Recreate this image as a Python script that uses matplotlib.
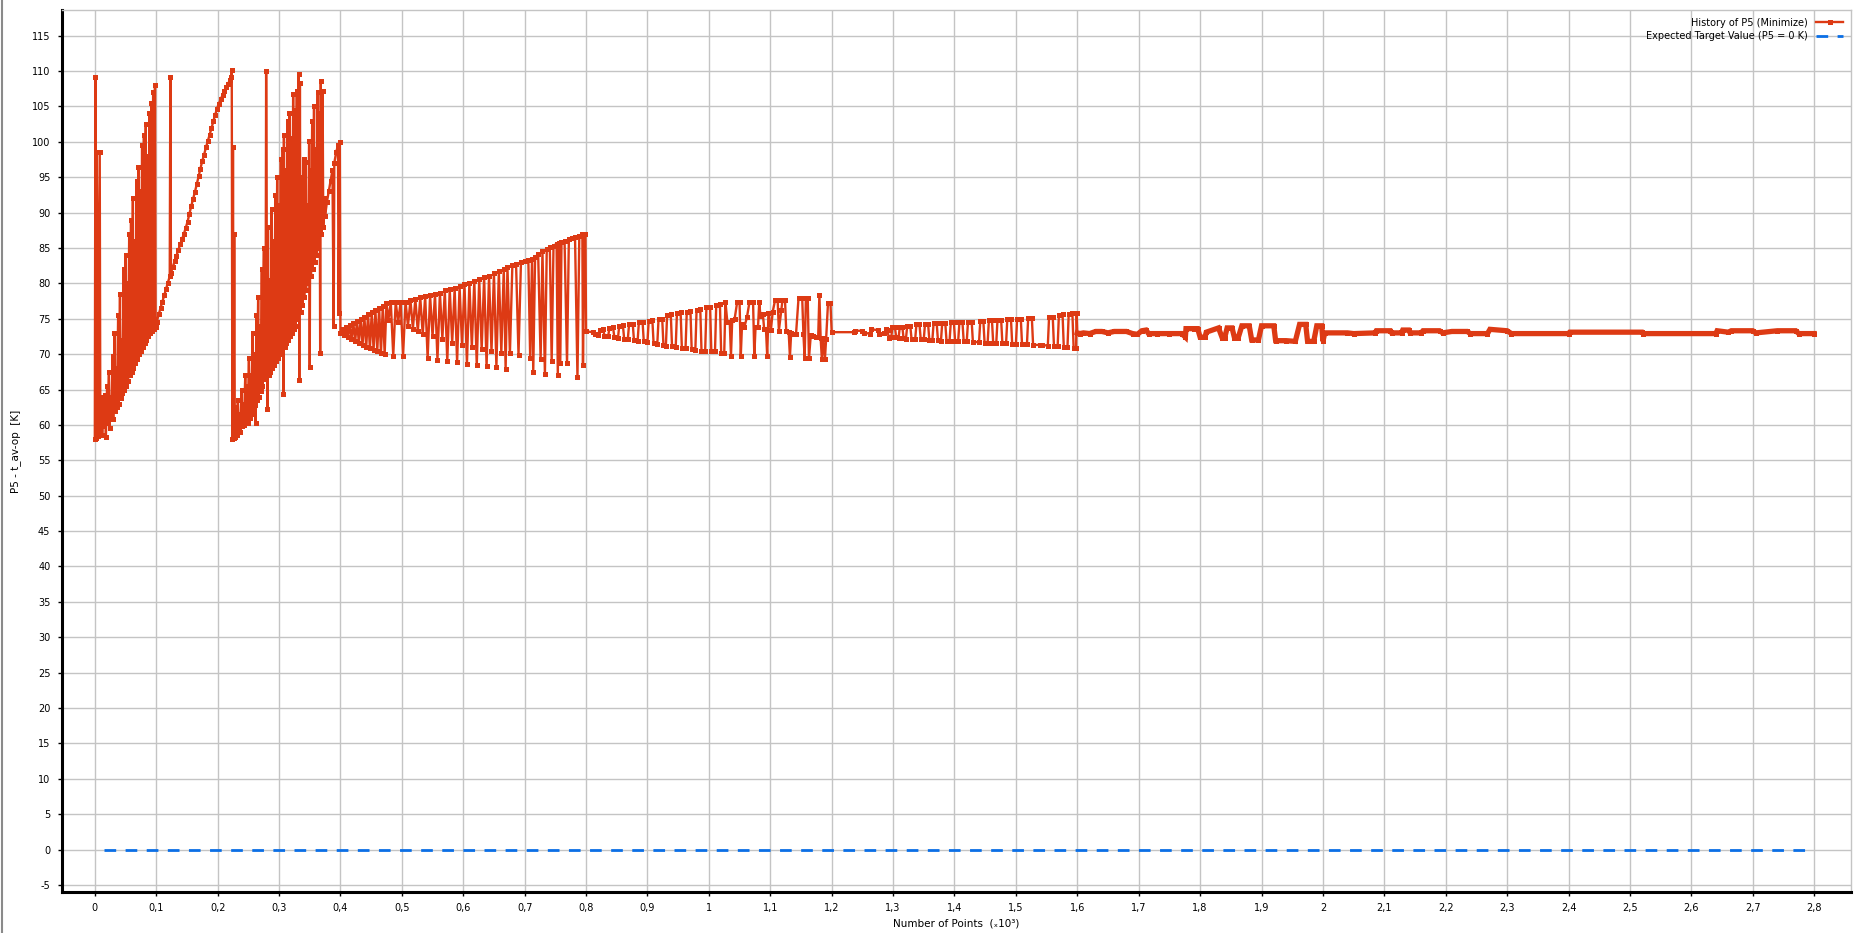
import numpy as np
import matplotlib.pyplot as plt
from matplotlib.ticker import FuncFormatter
from matplotlib.lines import Line2D

# ---- optimisation history of P5 (point number, value in K) ----
# first sweep: spikes, zig-zag and the long ramp up to ~110 K
idx_p1 = [0, 1, 2, 3, 4, 5, 8, 9,
          11, 12, 14, 15, 17, 18, 20, 21, 23, 24, 26, 27, 29, 30, 32, 33, 35, 36,
          38, 39, 41, 42, 44, 45, 47, 48, 50, 51, 53, 54, 56, 57, 59, 60, 62, 63,
          65, 66, 68, 69, 71, 72, 74, 75, 77, 78, 80, 81, 83, 84, 86, 87, 89, 90,
          92, 93, 95, 96, 98, 99,
          101, 104, 107, 110, 113, 116, 119, 122, 123, 124, 127, 130, 133, 136,
          139, 142, 145, 148, 151, 154, 157, 160, 163, 166, 169, 172, 175, 178,
          181, 184, 187, 190, 193, 196, 199, 202, 205, 208, 211, 214, 217, 220,
          222, 223]
val_p1 = [58.0, 109.2, 58.2, 98.5, 86.5, 58.4, 98.5, 58.6,
          64.0, 58.6, 64.0, 59.8, 64.2, 58.3, 65.5, 60.2, 67.5, 59.6, 64.0, 61.0,
          69.8, 60.8, 73.0, 62.0, 68.0, 62.5, 75.5, 63.0, 78.5, 63.8, 72.0, 64.5,
          82.0, 65.0, 84.0, 65.5, 80.0, 66.2, 87.0, 67.0, 89.0, 67.5, 92.0, 68.0,
          86.0, 68.8, 94.5, 69.3, 96.5, 70.0, 93.0, 70.5, 99.5, 71.0, 101.0, 71.5,
          102.5, 72.0, 98.0, 72.5, 104.0, 73.0, 105.5, 73.2, 107.0, 73.5, 108.0, 73.8,
          74.6, 75.6, 76.5, 77.4, 78.3, 79.2, 80.1, 81.0, 109.2, 81.5, 82.3, 83.1,
          83.9, 84.7, 85.5, 86.2, 87.0, 87.8, 88.7, 89.8, 90.9, 91.9, 92.9, 94.0,
          95.1, 96.2, 97.3, 98.2, 99.2, 100.1, 101.0, 101.9, 102.9, 103.8, 104.7,
          105.4, 106.0, 106.6, 107.2, 107.7, 108.2, 108.7, 109.2, 110.2]

# second sweep: restart near 58 K, noisy climb back above 100 K
idx_p2 = [224, 225, 226, 227, 228, 230, 231, 233, 234, 236, 237, 239, 240, 242, 243,
          245, 246, 248, 249, 251, 252, 254, 255, 257, 258, 260, 261, 262, 263, 264,
          266, 267, 269, 270, 272, 273, 275, 278, 279, 281, 282, 283, 285, 286, 288,
          289, 291, 292, 294, 295, 297, 298, 300, 301, 303, 304, 306, 307, 308, 309,
          311, 312, 314, 315, 317, 318, 320, 321, 323, 324, 326, 327, 329, 330, 332,
          333, 334, 335, 337, 338, 340, 341, 343, 344, 346, 347, 349, 350, 351, 352,
          354, 355, 357, 358, 360, 361, 363, 364, 366, 367, 368, 369, 371, 372, 374,
          375, 378, 381, 384, 387, 389, 390, 393, 396, 397, 399]
val_p2 = [58.0, 99.3, 58.2, 87.0, 58.3, 62.5, 58.6, 63.5, 59.2, 61.5, 59.0, 65.0, 59.8,
          63.0, 60.0, 67.0, 60.5, 65.5, 60.3, 69.5, 61.0, 67.0, 61.5, 73.0, 62.2, 70.0,
          62.8, 60.3, 75.5, 63.5, 78.0, 64.0, 74.0, 64.8, 82.0, 65.5, 85.0, 66.5, 110.0,
          62.3, 88.0, 67.0, 80.5, 67.5, 90.5, 68.0, 86.0, 68.5, 92.5, 69.0, 95.0, 69.5,
          91.0, 70.0, 97.5, 70.2, 99.0, 64.3, 101.0, 71.0, 96.0, 71.5, 103.0, 72.0,
          104.0, 72.5, 100.5, 73.0, 106.7, 73.5, 104.5, 74.0, 107.2, 75.0, 109.6, 66.4,
          108.3, 76.0, 95.0, 77.0, 97.5, 78.0, 97.1, 79.0, 91.0, 80.0, 100.1, 68.2,
          96.0, 81.0, 103.0, 82.0, 105.0, 83.0, 99.0, 84.0, 107.0, 85.0, 104.0, 70.2,
          108.6, 87.0, 107.2, 88.0, 92.0, 89.5, 91.5, 93.0, 94.5, 96.0, 74.0, 97.0,
          98.5, 99.5, 75.8, 99.9]

# third phase: fan opening from 73 K, then upper track rising to ~87 K
idx_p3 = [400, 403, 406, 409, 412, 415, 418, 421, 424, 427, 430, 433, 436, 439, 442,
          445, 448, 451, 454, 457, 460, 463, 466, 469, 472, 475,
          478, 482, 486, 490, 494, 498, 502, 506, 510, 514, 518, 522, 526, 530, 534,
          538, 542, 546, 550, 554, 558, 562, 566, 570, 574, 578, 582, 586, 590, 594,
          598, 602, 606, 610, 614, 618, 622, 626, 630, 634, 638, 642, 646, 650, 654,
          658, 662, 666, 669, 672, 676, 680, 686, 690, 694, 700, 706, 709, 712, 714,
          717, 722, 726, 729, 733, 736, 741, 744, 747, 752, 754, 756, 758, 760, 765,
          769, 772, 777, 782, 786, 789, 794, 795, 797, 799]
val_p3 = [73.0, 73.5, 72.7, 73.8, 72.4, 74.1, 72.1, 74.4, 71.8, 74.7, 71.6, 75.0, 71.3,
          75.3, 71.0, 75.6, 70.8, 75.9, 70.6, 76.2, 70.4, 76.5, 70.2, 76.8, 70.0, 77.2,
          74.8, 77.3, 69.8, 77.4, 74.5, 77.4, 69.8, 77.4, 74.0, 77.6, 73.6, 77.8, 73.2,
          78.0, 72.8, 78.2, 69.4, 78.3, 72.5, 78.5, 69.2, 78.7, 72.2, 79.0, 69.0, 79.2,
          71.6, 79.3, 68.9, 79.6, 71.3, 79.9, 68.6, 80.1, 71.0, 80.4, 68.4, 80.6, 70.7,
          80.9, 68.3, 81.1, 70.4, 81.4, 68.2, 81.7, 70.2, 82.0, 67.9, 82.3, 70.1, 82.6,
          82.8, 69.9, 83.0, 83.1, 83.3, 69.5, 83.4, 67.5, 83.7, 84.1, 69.3, 84.5, 67.2,
          84.8, 85.1, 69.0, 85.3, 85.6, 67.0, 85.7, 68.8, 85.8, 86.0, 68.7, 86.2, 86.4,
          86.6, 66.7, 86.7, 86.9, 68.4, 87.0, 86.9]

# fourth phase: comb around 73 K, widening to 69-78 K
idx_p4 = [800, 812, 814, 820, 822, 828, 830, 836, 838, 844, 846, 852, 854, 860, 862,
          868, 870, 876, 878, 884, 886, 892, 894, 900, 902, 908, 910, 916, 918, 924,
          926, 930, 932, 938, 940, 946, 948, 954, 956, 962, 964, 970, 972, 978, 980,
          986, 988, 994, 996, 1002, 1004, 1010, 1012, 1018, 1020, 1025,
          1027, 1030, 1034, 1036, 1038, 1042, 1046, 1050, 1052, 1054, 1058, 1062, 1066,
          1072, 1074, 1076, 1080, 1082, 1084, 1088, 1090, 1093, 1095, 1097, 1101, 1104,
          1108, 1112, 1114, 1118, 1120, 1124, 1126, 1130, 1132, 1134, 1138, 1142, 1146,
          1152, 1154, 1156, 1158, 1161, 1163, 1166, 1170, 1174, 1178, 1180, 1182, 1184,
          1186, 1189, 1191, 1194, 1198]
val_p4 = [73.2, 73.1, 72.8, 72.7, 73.4, 73.5, 72.6, 72.5, 73.7, 73.8, 72.4, 72.3, 74.0,
          74.1, 72.2, 72.1, 74.2, 74.3, 72.0, 71.9, 74.5, 74.6, 71.8, 71.7, 74.7, 74.8,
          71.5, 71.4, 74.9, 75.0, 71.3, 71.2, 75.5, 75.6, 71.1, 71.0, 75.8, 75.9, 70.9,
          70.8, 76.0, 76.1, 70.7, 70.6, 76.3, 76.4, 70.5, 70.5, 76.6, 76.7, 70.4, 70.4,
          77.0, 77.1, 70.2, 70.1,
          77.4, 74.6, 74.5, 69.8, 74.8, 75.0, 77.3, 77.3, 69.8, 74.2, 73.9, 75.2, 77.3,
          77.3, 69.7, 73.8, 73.8, 77.3, 75.4, 75.6, 73.6, 73.5, 69.7, 75.8, 73.4, 76.0,
          77.7, 77.7, 73.3, 76.2, 77.7, 77.7, 73.2, 73.1, 69.6, 73.0, 72.9, 72.9, 77.9,
          77.9, 72.8, 69.4, 77.9, 77.9, 69.4, 72.7, 72.5, 72.4, 72.4, 78.4, 72.3, 69.3,
          72.3, 69.3, 72.2, 77.2, 77.2]

# fifth phase: narrow comb 71-76 K
idx_p5 = [1200, 1236, 1238, 1250, 1252, 1262, 1264, 1275, 1277, 1286, 1288, 1291, 1293,
          1297, 1299, 1303, 1305, 1309, 1311, 1315, 1317, 1321, 1323, 1328, 1330, 1336,
          1338, 1343, 1345, 1350, 1352, 1357, 1359, 1364, 1366, 1371, 1373, 1378, 1380,
          1385, 1387, 1392, 1394, 1399, 1401, 1406, 1408, 1413, 1415, 1420, 1422, 1428,
          1430, 1440, 1442, 1447, 1449, 1454, 1456, 1461, 1463, 1468, 1470, 1476, 1478,
          1484, 1486, 1492, 1494, 1500, 1502, 1508, 1510, 1518, 1520, 1526, 1528, 1540,
          1542, 1552, 1554, 1560, 1562, 1568, 1570, 1576, 1578, 1584, 1586, 1592, 1594,
          1598, 1599]
val_p5 = [73.1, 73.1, 73.3, 73.3, 73.0, 72.9, 73.5, 73.4, 72.9, 73.0, 73.5, 73.4, 72.3,
          72.4, 73.8, 73.8, 72.4, 72.3, 73.9, 73.9, 72.3, 72.2, 74.0, 74.0, 72.2, 72.1,
          74.2, 74.2, 72.1, 72.1, 74.3, 74.3, 72.0, 72.0, 74.4, 74.4, 72.0, 71.9, 74.4,
          74.4, 71.9, 71.9, 74.5, 74.5, 71.8, 71.8, 74.5, 74.5, 71.8, 71.8, 74.6, 74.6,
          71.7, 71.7, 74.7, 74.7, 71.6, 71.6, 74.8, 74.8, 71.6, 71.5, 74.8, 74.8, 71.5,
          71.5, 74.9, 74.9, 71.4, 71.4, 75.0, 75.0, 71.4, 71.4, 75.1, 75.1, 71.3, 71.3,
          71.3, 71.2, 75.2, 75.3, 71.1, 71.1, 75.5, 75.6, 71.0, 71.0, 75.7, 75.8, 70.9,
          70.9, 75.8]

# last phase: converged around 73 K
idx_p6 = [1600, 1604, 1610, 1620, 1630, 1640, 1650, 1660, 1670, 1680, 1690, 1698, 1705,
          1712, 1716, 1730, 1750, 1770, 1776, 1777, 1790, 1796, 1800, 1808, 1810, 1830,
          1836, 1840, 1844, 1852, 1856, 1862, 1868, 1880, 1884, 1895, 1900, 1920, 1923,
          1940, 1955, 1962, 1972, 1975, 1985, 1990, 1998, 2000, 2003, 2040, 2050, 2085,
          2087, 2110, 2112, 2128, 2130, 2140, 2142, 2160, 2163, 2190, 2195, 2210, 2235,
          2240, 2268, 2272, 2300, 2307, 2400, 2402, 2520, 2522, 2640, 2642, 2660, 2665,
          2700, 2705, 2740, 2770, 2775, 2800]
val_p6 = [73.0, 72.9, 73.0, 72.9, 73.2, 73.2, 73.0, 73.2, 73.2, 73.2, 72.9, 72.8, 73.3,
          73.4, 72.9, 72.9, 72.9, 72.9, 72.4, 73.6, 73.6, 73.6, 72.4, 72.4, 73.1, 73.7,
          72.3, 72.3, 73.7, 73.7, 72.3, 72.3, 74.0, 74.0, 72.0, 72.0, 74.0, 74.0, 71.9,
          71.9, 71.8, 74.2, 74.2, 71.8, 71.8, 74.0, 74.0, 71.8, 73.0, 73.0, 72.9, 73.0,
          73.3, 73.3, 73.0, 73.0, 73.4, 73.4, 73.0, 73.0, 73.3, 73.3, 73.0, 73.2, 73.2,
          72.9, 72.9, 73.5, 73.3, 72.9, 72.9, 73.1, 73.1, 72.9, 72.9, 73.3, 73.1, 73.3,
          73.3, 73.0, 73.3, 73.3, 72.9, 72.9]

target_value = 0.0
target_span = [15, 2790]

x_ticks = np.arange(0, 2.81, 0.1)
y_ticks = np.arange(-5, 116, 5)

RED = '#dd3a14'
BLUE = '#0b6fe6'
GRID = '#c4c4c4'


def comma_fmt(v, pos):
    s = f"{v:.1f}".rstrip('0').rstrip('.')
    if s == '-0':
        s = '0'
    return s.replace('.', ',')


points = np.array(idx_p1 + idx_p2 + idx_p3 + idx_p4 + idx_p5 + idx_p6) / 1000.0
history = np.array(val_p1 + val_p2 + val_p3 + val_p4 + val_p5 + val_p6)

fig = plt.figure(figsize=(18.59, 9.33), dpi=100)
ax = fig.add_axes([0.0331, 0.0439, 0.9626, 0.9454])

ax.plot(points, history, color=RED, lw=1.7, marker='s', markersize=3.6,
        markeredgewidth=0, label='History of P5 (Minimize)', zorder=3)
# the converged tail is a solid run of markers in the original, so it reads thicker
ax.plot(np.array(idx_p6) / 1000.0, val_p6, color=RED, lw=3.8,
        solid_joinstyle='miter', zorder=3)
ax.plot(np.array(target_span) / 1000.0, [target_value, target_value], color=BLUE,
        lw=2.0, linestyle=(0, (4.2, 3.4)), label='Expected Target Value (P5 = 0 K)',
        zorder=3)

ax.set_xlim(-0.0542, 2.860)
ax.set_ylim(-6.0, 118.62)
ax.set_xticks(x_ticks)
ax.set_yticks(y_ticks)
ax.xaxis.set_major_formatter(FuncFormatter(comma_fmt))
ax.yaxis.set_major_formatter(FuncFormatter(comma_fmt))
ax.tick_params(axis='both', labelsize=7, length=3, width=1, color='black', pad=5)

ax.grid(True, color=GRID, lw=1.0)
ax.set_axisbelow(True)
for side in ['top', 'right']:
    ax.spines[side].set_color(GRID)
    ax.spines[side].set_linewidth(1.0)
for side in ['left', 'bottom']:
    ax.spines[side].set_color('black')
    ax.spines[side].set_linewidth(2.2)

ax.set_xlabel('Number of Points  (\u209310\u00b3)', fontsize=7.5, labelpad=4)
ax.set_ylabel('P5 - t_av-op  [K]', fontsize=7.5, labelpad=8)

ax.legend(loc='upper right', frameon=False, markerfirst=False, fontsize=7,
          handlelength=2.8, labelspacing=0.35, borderaxespad=0.4, borderpad=0.4)

# thin grey frame line at the far left of the window
fig.add_artist(Line2D([0.0012, 0.0012], [0, 1], transform=fig.transFigure,
                      color='#8a8a8a', lw=1.5))

fig.savefig('out.png', dpi=100)
